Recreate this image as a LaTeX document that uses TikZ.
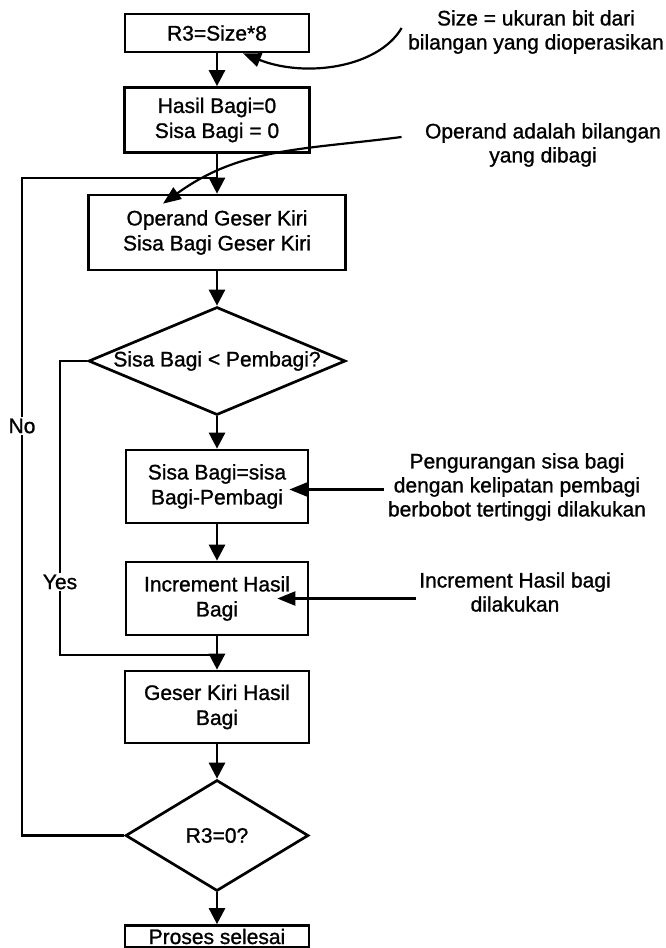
\documentclass[tikz,border=0pt]{standalone}
\usepackage{fontspec}
\setmainfont{Liberation Sans}[FakeBold=1.1]
\usetikzlibrary{arrows.meta,shapes.geometric,calc}
\begin{document}
\begin{tikzpicture}[x=1pt,y=-1pt,
  every node/.style={font=\fontsize{21}{25}\selectfont},
  stepbox/.style={draw, line width=2.7pt, inner sep=0pt, align=center},
  decision/.style={draw, diamond, line width=2.7pt, inner sep=0pt},
  flow/.style={line width=2.7pt, -{Triangle[length=16pt,width=16pt]}},
  line/.style={line width=2.7pt},
  note/.style={line width=2.2pt, -{Triangle[length=18pt,width=14pt]}},
  notetext/.style={align=center, font=\fontsize{21}{24}\selectfont},
  tag/.style={fill=white, inner sep=1pt}
]
\useasboundingbox (0,0) rectangle (665,948);

% process chain
\node[stepbox, minimum width=184pt, minimum height=38pt] (b1) at (217,33) {R3=Size*8};
\node[stepbox, minimum width=185pt, minimum height=65pt] (b2) at (217,120) {Hasil Bagi=0\\Sisa Bagi = 0};
\node[stepbox, minimum width=257pt, minimum height=75pt] (b3) at (217,232.5) {Operand Geser Kiri\\Sisa Bagi Geser Kiri};
\node[decision, minimum width=257pt, minimum height=108pt] (d1) at (217,361) {};
\node at (d1.center) {Sisa Bagi < Pembagi?};
\node[stepbox, minimum width=182pt, minimum height=73pt] (b4) at (217,486.5) {Sisa Bagi=sisa\\Bagi-Pembagi};
\node[stepbox, minimum width=182pt, minimum height=73pt] (b5) at (217,598.5) {Increment Hasil\\Bagi};
\node[stepbox, minimum width=184pt, minimum height=72pt] (b6) at (217,707) {Geser Kiri Hasil\\Bagi};
\node[decision, minimum width=183pt, minimum height=111pt] (d2) at (217,835.5) {};
\node at (d2.center) {R3=0?};
\node[stepbox, minimum width=184pt, minimum height=22pt] (b7) at (217,936.5) {Proses selesai};

% main flow
\draw[flow] (b1) -- (b2);
\draw[flow] (b2) -- (b3);
\draw[flow] (b3) -- (d1);
\draw[flow] (d1) -- (b4);
\draw[flow] (b4) -- (b5);
\draw[flow] (b5) -- (b6);
\draw[flow] (b6) -- (d2);
\draw[flow] (d2) -- (b7);

% Yes branch: skips the subtraction
\node[tag] (yes) at (60,582) {Yes};
\coordinate (yesj) at (217,655);
\draw[line] (d1.west) -| (yes.north);
\draw[line] (yes.south) |- (yesj);

% No branch: loops back
\node[tag] (no) at (22,426) {No};
\coordinate (noj) at (217,178);
\draw[line] (d2.west) -| (no.south);
\draw[line] (no.north) |- (noj);

% notes
\node[notetext] (n1) at (536,32) {Size = ukuran bit dari\\bilangan yang dioperasikan};
\node[notetext] (n2) at (543,145) {Operand adalah bilangan\\yang dibagi};
\node[notetext] (n3) at (517,487) {Pengurangan sisa bagi\\dengan kelipatan pembagi\\berbobot tertinggi dilakukan};
\node[notetext] (n4) at (515,592) {Increment Hasil bagi\\dilakukan};

\coordinate (s1) at ($(n1.west)+(-3,-4)$);
\coordinate (e1) at ($(b1.south)+(26,0)$);
\draw[note] (s1) .. controls (378,68) and (305,78) .. (e1);

\coordinate (s2) at ($(n2.west)+(-20,-8)$);
\coordinate (e2) at ($(b3.north)+(-54,10)$);
\draw[note] (s2) .. controls (300,150) and (240,148) .. (e2);

\coordinate (e3) at ($(b4.east)+(-20,3)$);
\draw[note] (n3.west |- e3) -- (e3);

\coordinate (e4) at ($(b5.east)+(-32,0)$);
\draw[note] (n4.west |- e4) -- (e4);
\end{tikzpicture}
\end{document}
